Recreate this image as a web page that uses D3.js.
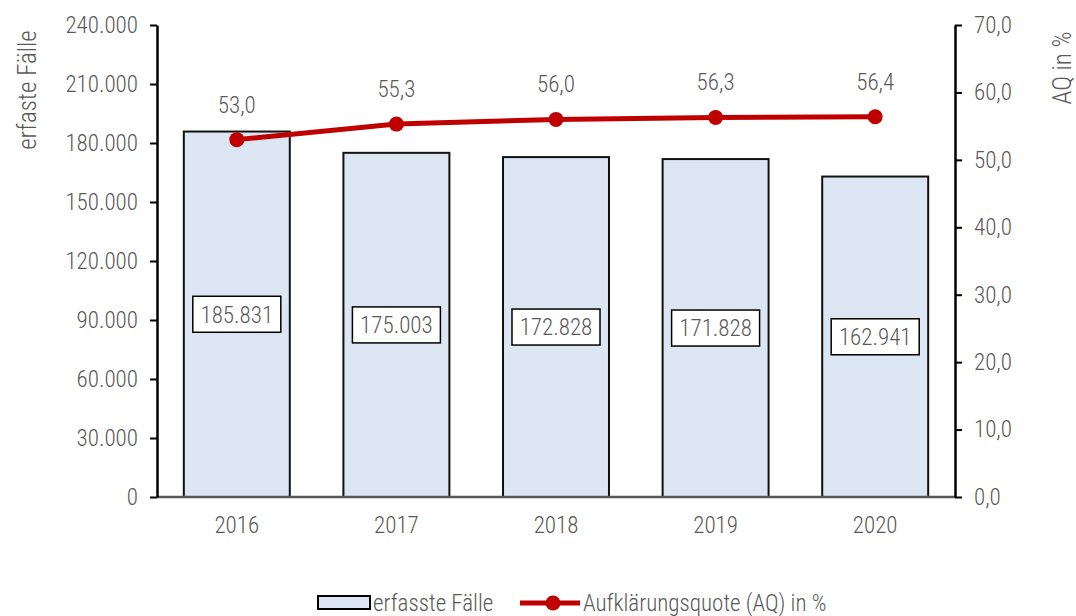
<!DOCTYPE html>
<html>
<head>
<meta charset="utf-8">
<script src="https://cdn.jsdelivr.net/npm/d3@7"></script>
<style>
  body { margin: 0; background: #fff; }
  text { font-family: "Liberation Sans Narrow", "Roboto Condensed", "Liberation Sans", sans-serif; font-weight: 300; fill: #595959; }
</style>
</head>
<body>
<div id="chart"></div>
<script>
'use strict';

const years = ['2016', '2017', '2018', '2019', '2020'];
const cases = [185831, 175003, 172828, 171828, 162941];
const clearance = [53.0, 55.3, 56.0, 56.3, 56.4];
const leftTicks = [0, 30000, 60000, 90000, 120000, 150000, 180000, 210000, 240000];
const rightTicks = [0, 10, 20, 30, 40, 50, 60, 70];

const W = 1076, H = 616;
const margin = { left: 157, right: 121, top: 25, bottom: 119 };
const width = W - margin.left - margin.right;
const height = H - margin.top - margin.bottom;

const fmtInt = d => d3.format(',')(d).replace(/,/g, '.');
const fmtDec = d => d3.format('.1f')(d).replace('.', ',');

const svg = d3.select('#chart').append('svg')
    .attr('width', W)
    .attr('height', H);

const g = svg.append('g')
    .attr('transform', `translate(${margin.left}, ${margin.top})`);

const x = d3.scaleBand().domain(years).range([0, width]).paddingInner(0.336).paddingOuter(0.168);
const yL = d3.scaleLinear().domain([0, 240000]).range([height, 0]);
const yR = d3.scaleLinear().domain([0, 70]).range([height, 0]);

// bars
g.selectAll('rect.bar')
  .data(cases)
  .join('rect')
    .attr('class', 'bar')
    .attr('x', (d, i) => x(years[i]))
    .attr('y', d => yL(d))
    .attr('width', x.bandwidth())
    .attr('height', d => height - yL(d))
    .attr('fill', '#dce6f2')
    .attr('stroke', '#111')
    .attr('stroke-width', 2);

// bar value boxes
const boxes = g.selectAll('g.vbox')
  .data(cases)
  .join('g')
    .attr('class', 'vbox')
    .attr('transform', (d, i) => `translate(${x(years[i]) + x.bandwidth() / 2}, ${(yL(d) + height) / 2})`);
boxes.append('rect')
    .attr('x', -44).attr('y', -18)
    .attr('width', 88).attr('height', 36)
    .attr('fill', '#fff')
    .attr('stroke', '#000')
    .attr('stroke-width', 1.5);
boxes.append('text')
    .attr('text-anchor', 'middle')
    .attr('dy', '0.36em')
    .attr('font-size', 23)
    .text(d => fmtInt(d));

// x baseline
g.append('line')
    .attr('x1', 0).attr('x2', width)
    .attr('y1', height).attr('y2', height)
    .attr('stroke', '#595959')
    .attr('stroke-width', 2.5);

// left axis
const axL = g.append('g')
    .call(d3.axisLeft(yL).tickValues(leftTicks).tickSize(7).tickSizeOuter(0).tickFormat(fmtInt));
axL.select('.domain').attr('stroke', '#000').attr('stroke-width', 2.5);
axL.selectAll('.tick line').attr('stroke', '#000').attr('stroke-width', 2);
axL.selectAll('.tick text').attr('font-size', 23).attr('x', -19).attr('fill', '#595959');

// right axis
const axR = g.append('g')
    .attr('transform', `translate(${width}, 0)`)
    .call(d3.axisRight(yR).tickValues(rightTicks).tickSize(7).tickSizeOuter(0).tickFormat(fmtDec));
axR.select('.domain').attr('stroke', '#000').attr('stroke-width', 2.5);
axR.selectAll('.tick line').attr('stroke', '#000').attr('stroke-width', 2);
axR.selectAll('.tick text').attr('font-size', 23).attr('x', 19).attr('fill', '#595959');

// x labels
g.selectAll('text.year')
  .data(years)
  .join('text')
    .attr('class', 'year')
    .attr('x', d => x(d) + x.bandwidth() / 2)
    .attr('y', height + 36)
    .attr('text-anchor', 'middle')
    .attr('font-size', 23)
    .text(d => d);

// clearance line
const line = d3.line()
    .x((d, i) => x(years[i]) + x.bandwidth() / 2)
    .y(d => yR(d));
g.append('path')
    .datum(clearance)
    .attr('d', line)
    .attr('fill', 'none')
    .attr('stroke', '#c00000')
    .attr('stroke-width', 5);
g.selectAll('circle.pt')
  .data(clearance)
  .join('circle')
    .attr('class', 'pt')
    .attr('cx', (d, i) => x(years[i]) + x.bandwidth() / 2)
    .attr('cy', d => yR(d))
    .attr('r', 7.5)
    .attr('fill', '#c00000');
g.selectAll('text.pl')
  .data(clearance)
  .join('text')
    .attr('class', 'pl')
    .attr('x', (d, i) => x(years[i]) + x.bandwidth() / 2)
    .attr('y', d => yR(d) - 27)
    .attr('text-anchor', 'middle')
    .attr('font-size', 23)
    .text(d => fmtDec(d));

// axis titles
svg.append('text')
    .attr('transform', 'translate(36, 90) rotate(-90)')
    .attr('text-anchor', 'middle')
    .attr('font-size', 25)
    .text('erfaste Fälle');
svg.append('text')
    .attr('transform', 'translate(1071, 68) rotate(-90)')
    .attr('text-anchor', 'middle')
    .attr('font-size', 25)
    .text('AQ in %');

// legend
const lg = svg.append('g').attr('transform', 'translate(318, 603)');
lg.append('rect')
    .attr('x', 0).attr('y', -7)
    .attr('width', 52).attr('height', 13)
    .attr('fill', '#dce6f2')
    .attr('stroke', '#000')
    .attr('stroke-width', 2);
lg.append('text')
    .attr('x', 55).attr('dy', '0.36em')
    .attr('font-size', 23)
    .text('erfasste Fälle');
lg.append('line')
    .attr('x1', 202).attr('x2', 262)
    .attr('stroke', '#c00000')
    .attr('stroke-width', 5);
lg.append('circle')
    .attr('cx', 235).attr('r', 7.5)
    .attr('fill', '#c00000');
lg.append('text')
    .attr('x', 265).attr('dy', '0.36em')
    .attr('font-size', 23)
    .text('Aufklärungsquote (AQ) in %');
</script>
</body>
</html>
